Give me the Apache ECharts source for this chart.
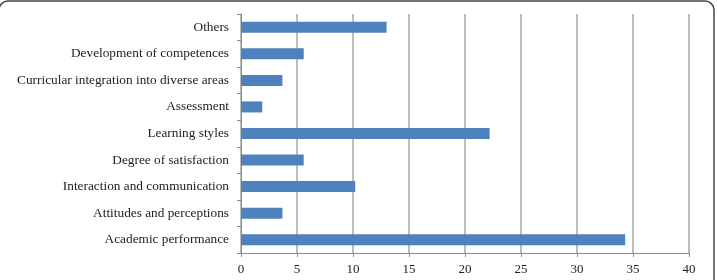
<!DOCTYPE html>
<html>
<head>
<meta charset="utf-8">
<script src="https://cdn.jsdelivr.net/npm/echarts@6/dist/echarts.min.js"></script>
<style>
  html, body { margin: 0; padding: 0; background: #fff; }
  #chart { width: 717px; height: 280px; }
</style>
</head>
<body>
<div id="chart"></div>
<script>
// categories listed bottom to top
var categories = [
    'Academic performance',
    'Attitudes and perceptions',
    'Interaction and communication',
    'Degree of satisfaction',
    'Learning styles',
    'Assessment',
    'Curricular integration into diverse areas',
    'Development of competences',
    'Others'
];
var values = [34.3, 3.7, 10.2, 5.6, 22.2, 1.9, 3.7, 5.6, 13.0];
var xTicks = [0, 5, 10, 15, 20, 25, 30, 35, 40];

var myChart = echarts.init(document.getElementById('chart'));

var font = '"Liberation Serif", "Times New Roman", serif';

var option = {
    animation: false,
    textStyle: { fontFamily: font },
    grid: {
        left: 241,
        right: 28,
        top: 14,
        bottom: 27
    },
    xAxis: {
        type: 'value',
        min: xTicks[0],
        max: xTicks[xTicks.length - 1],
        interval: 5,
        axisLine: { show: true, lineStyle: { color: '#8c8c8c', width: 1 } },
        axisTick: { show: true, length: 4, lineStyle: { color: '#8c8c8c' } },
        axisLabel: { color: '#222', fontSize: 13, fontFamily: font, margin: 10 },
        splitLine: { show: true, lineStyle: { color: '#a6a6a6', width: 1.5 } }
    },
    yAxis: {
        type: 'category',
        data: categories,
        axisLine: { show: true, lineStyle: { color: '#8c8c8c', width: 1 } },
        axisTick: { show: true, length: 4, lineStyle: { color: '#8c8c8c' } },
        axisLabel: { color: '#222', fontSize: 13.3, fontFamily: font, margin: 12 },
        splitLine: { show: false }
    },
    series: [
        {
            type: 'bar',
            data: values,
            barWidth: 11,
            itemStyle: { color: '#4f81bd' }
        }
    ],
    graphic: [
        {
            type: 'rect',
            shape: { x: -1, y: 1, width: 715, height: 320, r: 9 },
            style: { fill: 'none', stroke: '#444', lineWidth: 1.5 },
            silent: true
        }
    ]
};

myChart.setOption(option, true);
</script>
</body>
</html>
